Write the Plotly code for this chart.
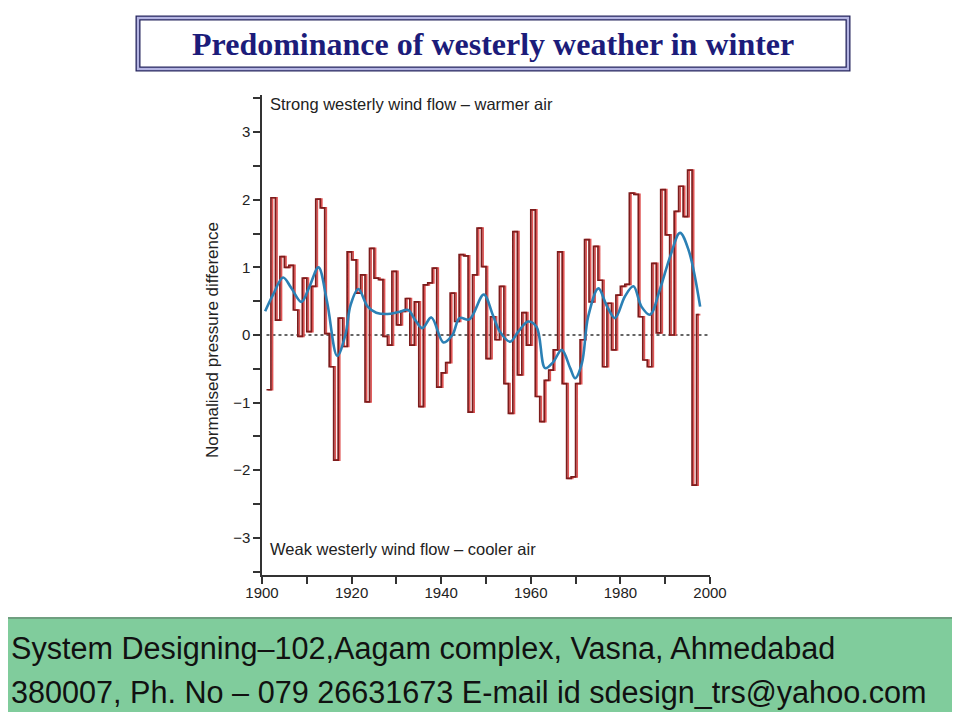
import plotly.graph_objects as go

# annual winter index, 1901-1997
years = list(range(1901, 1998))
index_vals = [
    -0.81, 2.03, 0.22, 1.16, 1.00, 1.03, 0.37, -0.02, 0.84, 0.05,
    0.72, 2.01, 1.88, 0.02, -0.47, -1.85, 0.25, -0.17, 1.23, 1.11,
    0.62, 0.89, -0.99, 1.28, 0.84, 0.82, -0.02, -0.15, 0.94, 0.15,
    0.35, 0.54, -0.15, 0.49, -1.06, 0.74, 0.77, 0.99, -0.77, -0.56,
    -0.41, 0.62, 0.20, 1.19, 1.17, -1.14, 0.89, 1.58, 1.01, -0.35,
    0.27, -0.07, 0.72, -0.72, -1.16, 1.53, -0.59, 0.33, -0.15, 1.85,
    -0.91, -1.28, -0.67, -0.52, -0.22, 1.23, -0.72, -2.12, -2.10, -0.72,
    -0.07, 1.41, 0.49, 1.31, 0.81, -0.47, 0.47, -0.22, 0.59, 0.72,
    0.75, 2.10, 2.08, 0.27, -0.37, -0.47, 1.06, 0.03, 2.15, 1.48,
    0.00, 1.83, 2.20, 1.75, 2.44, -2.22, 0.30,
]

# smoothed curve, sampled by eye
smooth_years = [1900.7, 1902.5, 1904.7, 1906.5, 1908.8, 1910.5, 1912.6, 1914.5,
                1916.8, 1918.6, 1919.8, 1921.5, 1923.6, 1925.5, 1928.0, 1930.5,
                1932.6, 1934.2, 1935.8, 1937.8, 1940.5, 1942.5, 1944.1, 1946.3,
                1949.5, 1951.5, 1953.1, 1955.4, 1957.2, 1959.4, 1961.3, 1963.2,
                1965.0, 1966.9, 1968.8, 1969.9, 1971.4, 1972.8, 1975.1, 1976.9,
                1978.8, 1981.0, 1982.9, 1984.7, 1986.6, 1988.8, 1991.1, 1993.3,
                1995.2, 1997.8]
smooth_vals = [0.35, 0.60, 0.85, 0.70, 0.49, 0.70, 1.00, 0.50,
               -0.31, 0.00, 0.45, 0.68, 0.42, 0.33, 0.31, 0.34,
               0.37, 0.22, 0.10, 0.26, -0.11, 0.00, 0.25, 0.23,
               0.60, 0.30, 0.05, -0.10, 0.05, 0.20, 0.12, -0.49,
               -0.40, -0.22, -0.49, -0.64, -0.42, 0.27, 0.69, 0.44,
               0.25, 0.57, 0.72, 0.42, 0.30, 0.67, 1.16, 1.51,
               1.26, 0.42]

x_ticks = [1900, 1920, 1940, 1960, 1980, 2000]
y_ticks = [-3, -2, -1, 0, 1, 2, 3]

# plot area in screen pixels; page body has an 8px margin
OFF = 8
L, R, T, B = 262, 710, 95, 575
W, H = 944, 704


def px(x):
    return (x - L) / (R - L)


def py(y):
    return (B - y) / (B - T)


step_x = years + [years[-1] + 0.5]
step_y = index_vals + [index_vals[-1]]

fig = go.Figure()

# light red shadow of the step outline
fig.add_trace(go.Scatter(x=[v + 0.35 for v in step_x], y=step_y, mode="lines",
                         line=dict(color="#e05555", width=1.7, shape="hv"),
                         hoverinfo="skip"))
fig.add_trace(go.Scatter(x=step_x, y=step_y, mode="lines",
                         line=dict(color="#7c1c1c", width=1.7, shape="hv")))
fig.add_trace(go.Scatter(x=smooth_years, y=smooth_vals, mode="lines",
                         line=dict(color="#2b80b5", width=2.6, shape="spline", smoothing=1.0)))

# dotted zero line
fig.add_shape(type="line", xref="x", yref="y", x0=1901, x1=2000, y0=0, y1=0,
              line=dict(color="#333333", width=1.3, dash="dot"), layer="below")

# title box (double border)
fig.add_shape(type="rect", xref="paper", yref="paper",
              x0=px(138), x1=px(848), y0=py(69), y1=py(18),
              line=dict(color="#26265e", width=5), fillcolor="white")
fig.add_shape(type="rect", xref="paper", yref="paper",
              x0=px(138), x1=px(848), y0=py(69), y1=py(18),
              line=dict(color="#b4b4e2", width=2.4))

# green footer band
fig.add_shape(type="rect", xref="paper", yref="paper",
              x0=px(-5), x1=px(965), y0=py(714), y1=py(618),
              line=dict(color="#6f9f80", width=2), fillcolor="#80cc9c")


def note(x, y, text, size, family="Liberation Sans, Arial, sans-serif",
         color="#222222", xanchor="left", angle=0):
    fig.add_annotation(x=px(x), y=py(y), xref="paper", yref="paper", showarrow=False,
                       xanchor=xanchor, yanchor="middle", textangle=angle, text=text,
                       font=dict(family=family, size=size, color=color))


note(493, 44, "<b>Predominance of westerly weather in winter</b>", 32,
     family="Liberation Serif, DejaVu Serif, serif", color="#1c1c7a", xanchor="center")
note(268, 104, "Strong westerly wind flow \u2013 warmer air", 16.5)
note(268, 549, "Weak westerly wind flow \u2013 cooler air", 16.5)
note(212, 340, "Normalised pressure difference", 17, xanchor="center", angle=-90)
note(9, 648, "System Designing\u2013102,Aagam complex, Vasna, Ahmedabad", 30.6, color="#111111")
note(9, 692, "380007, Ph. No \u2013 079 26631673 E-mail id sdesign_trs@yahoo.com", 30.6,
     color="#111111")

fig.update_layout(
    width=W, height=H,
    margin=dict(l=L - OFF, r=W - (R - OFF), t=T - OFF, b=H - (B - OFF), pad=0),
    paper_bgcolor="white", plot_bgcolor="white",
    showlegend=False,
    font=dict(family="Liberation Sans, Arial, sans-serif", size=15, color="#222222"),
)
fig.update_xaxes(range=[1900, 2000], tickvals=x_ticks, showgrid=False, zeroline=False,
                 showline=True, linecolor="#333333", linewidth=1.5,
                 ticks="outside", ticklen=7, tickwidth=1.5, tickcolor="#333333",
                 ticklabelstandoff=-4,
                 minor=dict(ticks="outside", dtick=10, tick0=1900, ticklen=7,
                            tickwidth=1.5, tickcolor="#333333"))
fig.update_yaxes(range=[-3.55, 3.55], tickvals=y_ticks, showgrid=False, zeroline=False,
                 showline=True, linecolor="#333333", linewidth=1.5,
                 ticks="outside", ticklen=7, tickwidth=1.5, tickcolor="#333333",
                 minor=dict(ticks="outside", dtick=0.5, tick0=0, ticklen=7,
                            tickwidth=1.5, tickcolor="#333333"))

fig.write_html("out.html")
